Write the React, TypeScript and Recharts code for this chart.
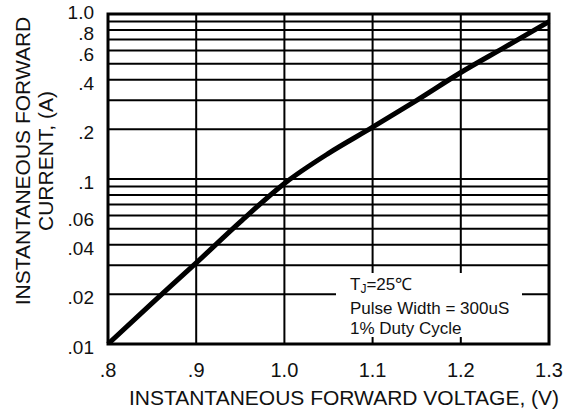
import { LineChart, Line, XAxis, YAxis, CartesianGrid, ReferenceArea } from "recharts";

const voltage = [0.8, 0.85, 0.9, 0.95, 1.0, 1.05, 1.1, 1.15, 1.2, 1.25, 1.3];
const current = [0.01, 0.0177, 0.031, 0.055, 0.094, 0.143, 0.206, 0.3, 0.442, 0.63, 0.9];

const xTicks = [0.8, 0.9, 1.0, 1.1, 1.2, 1.3];
const xTickLabels = [".8", ".9", "1.0", "1.1", "1.2", "1.3"];

// every grid line on the log axis; only some get a label
const yTicks = [
  0.01, 0.02, 0.03, 0.04, 0.05, 0.06, 0.07, 0.08, 0.09,
  0.1, 0.2, 0.3, 0.4, 0.5, 0.6, 0.7, 0.8, 0.9, 1.0,
];
const yLabelled = [0.01, 0.02, 0.04, 0.06, 0.1, 0.2, 0.4, 0.6, 0.8, 1.0];
const yTickLabels = [".01", ".02", ".04", ".06", ".1", ".2", ".4", ".6", ".8", "1.0"];

const data = voltage.map((v, i) => ({ v, i: current[i] }));

const FONT = "Arial, 'Liberation Sans', sans-serif";

function xFmt(val: number) {
  const k = xTicks.findIndex((t) => Math.abs(t - val) < 1e-9);
  return k >= 0 ? xTickLabels[k] : "";
}

// labels sit a little below their grid line, except the top one
function YTick(props: any) {
  const { x, y, payload } = props;
  const k = yLabelled.findIndex((t) => Math.abs(t - payload.value) < 1e-9);
  if (k < 0) return <g />;
  const top = yLabelled[k] === 1.0;
  return (
    <text x={x} y={y} dy={top ? 5 : 10} textAnchor="end" fontSize={19} fill="#111" fontFamily={FONT}>
      {yTickLabels[k]}
    </text>
  );
}

export default function App() {
  return (
    <div style={{ position: "absolute", left: 0, top: 0, width: 577, height: 412, background: "#fff", fontFamily: FONT }}>
      <LineChart width={577} height={412} data={data} margin={{ top: 14, right: 28, left: 0, bottom: 0 }}>
        <CartesianGrid stroke="#000" strokeWidth={2} />
        <XAxis
          dataKey="v"
          type="number"
          domain={[0.8, 1.3]}
          ticks={xTicks}
          interval={0}
          tickFormatter={xFmt}
          tick={{ fontSize: 20, fill: "#111", fontFamily: FONT }}
          tickLine={false}
          axisLine={false}
          tickMargin={13}
          height={68}
          label={() => (
            <text x={344} y={405} textAnchor="middle" fontSize={21} fill="#111" fontFamily={FONT}>
              INSTANTANEOUS FORWARD VOLTAGE, (V)
            </text>
          )}
        />
        <YAxis
          scale="log"
          domain={[0.01, 1]}
          ticks={yTicks}
          interval={0}
          allowDataOverflow
          tick={YTick}
          tickLine={false}
          axisLine={false}
          tickMargin={8}
          width={108}
          label={() => (
            <text transform="translate(0,161) rotate(-90)" textAnchor="middle" fontSize={21} fill="#111" fontFamily={FONT}>
              <tspan x={0} y={30}>INSTANTANEOUS FORWARD</tspan>
              <tspan x={0} y={53}>CURRENT, (A)</tspan>
            </text>
          )}
        />
        <ReferenceArea x1={0.8} x2={1.3} y1={0.01} y2={1} fill="none" stroke="#000" strokeWidth={3} ifOverflow="visible" />
        <Line
          type="monotone"
          dataKey="i"
          stroke="#000"
          strokeWidth={5}
          dot={false}
          isAnimationActive={false}
        />
      </LineChart>
      <div
        style={{
          position: "absolute",
          left: 336,
          top: 273,
          width: 186,
          height: 64,
          background: "#fff",
          fontSize: 17,
          lineHeight: "20px",
          color: "#111",
          paddingLeft: 14,
          paddingTop: 2,
          boxSizing: "border-box",
          whiteSpace: "nowrap",
        }}
      >
        <div>
          T<sub style={{ fontSize: 12, verticalAlign: "-3px" }}>J</sub>=25℃
        </div>
        <div>Pulse Width = 300uS</div>
        <div>1% Duty Cycle</div>
      </div>
    </div>
  );
}
